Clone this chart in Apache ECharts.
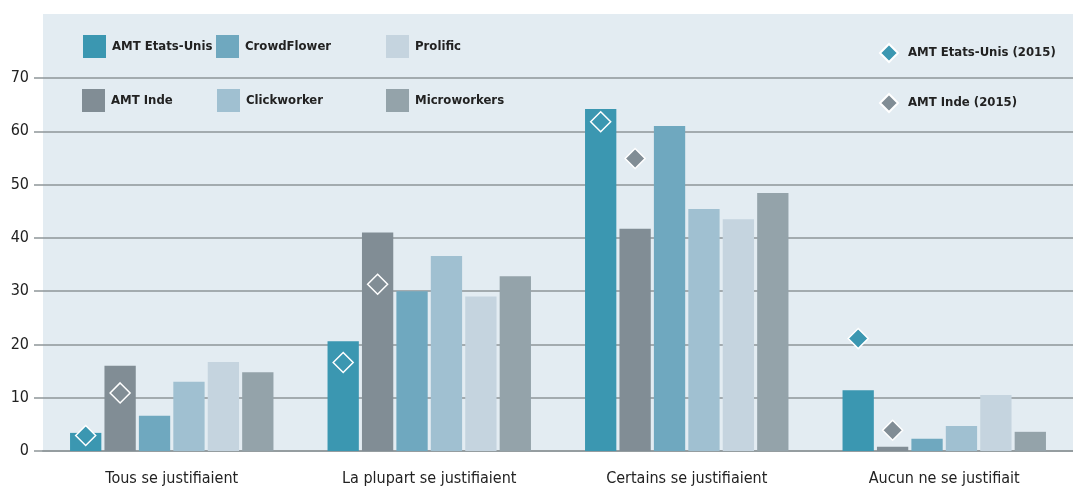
<!DOCTYPE html>
<html>
<head>
<meta charset="utf-8">
<script src="https://cdn.jsdelivr.net/npm/echarts@6/dist/echarts.min.js"></script>
<style>
  html, body { margin: 0; padding: 0; background: #fff; }
  #chart { width: 1073px; height: 491px; }
</style>
</head>
<body>
<div id="chart"></div>
<script>
// categories + values (%)
const categories = [
  "Tous se justifiaient",
  "La plupart se justifiaient",
  "Certains se justifiaient",
  "Aucun ne se justifiait",
];
const amtUS = [3.4, 20.6, 64.2, 11.4];
const amtInde = [16, 41, 41.7, 0.8];
const crowdFlower = [6.6, 30, 61, 2.3];
const clickworker = [13, 36.6, 45.4, 4.7];
const prolific = [16.7, 29, 43.5, 10.5];
const microworkers = [14.8, 32.8, 48.4, 3.6];
const amtUS2015 = [2.9, 16.6, 61.8, 21.1];
const amtInde2015 = [10.9, 31.3, 54.9, 3.9];
const yTicks = [0, 10, 20, 30, 40, 50, 60, 70];

const colors = {
  us: "#3b97b1",
  inde: "#818d95",
  crowd: "#6fa8bf",
  click: "#a0c0d1",
  prolific: "#c5d4df",
  micro: "#94a3aa",
};
const font = "'Liberation Sans Narrow', 'DejaVu Sans Condensed', sans-serif";

function barSeries(name, data, color, extra) {
  return Object.assign(
    {
      name: name,
      type: "bar",
      data: data,
      barCategoryGap: "21%",
      barGap: "10%",
      itemStyle: { color: color },
    },
    extra || {}
  );
}

function diamonds(values, color) {
  return {
    symbol: "diamond",
    symbolSize: 20,
    silent: true,
    label: { show: false },
    itemStyle: { color: color, borderColor: "#fff", borderWidth: 1.5 },
    data: values.map(function (v, i) {
      return { coord: [i, v], value: v };
    }),
  };
}

function legendItem(name, left, top, icon) {
  const isDiamond = icon === "diamond";
  return {
    data: [name],
    left: left,
    top: top,
    padding: 0,
    icon: icon,
    itemWidth: isDiamond ? 18 : 23,
    itemHeight: isDiamond ? 18 : 23,
    selectedMode: false,
    textStyle: {
      fontFamily: font,
      fontWeight: "bold",
      fontSize: 13,
      color: "#222",
      padding: isDiamond ? [0, 0, 0, 5] : [0, 0, 0, 1],
    },
  };
}

const chart = echarts.init(document.getElementById("chart"));
chart.setOption({
  animation: false,
  textStyle: { fontFamily: font },
  grid: { left: 43, right: 0, top: 78, bottom: 40 },
  graphic: [
    {
      type: "rect",
      left: 43,
      top: 14,
      z: -10,
      silent: true,
      shape: { width: 1030, height: 437 },
      style: { fill: "#e3ecf2" },
    },
  ],
  legend: [
    legendItem("AMT Etats-Unis", 83, 35, "rect"),
    legendItem("CrowdFlower", 216, 35, "rect"),
    legendItem("Prolific", 386, 35, "rect"),
    legendItem("AMT Inde", 82, 89, "rect"),
    legendItem("Clickworker", 217, 89, "rect"),
    legendItem("Microworkers", 386, 89, "rect"),
    legendItem("AMT Etats-Unis (2015)", 879, 43, "diamond"),
    legendItem("AMT Inde (2015)", 879, 93, "diamond"),
  ],
  xAxis: {
    type: "category",
    data: categories,
    axisLine: { lineStyle: { color: "#aab2b6", width: 2 } },
    axisTick: { show: false },
    axisLabel: { fontSize: 16, color: "#222", margin: 20 },
  },
  yAxis: {
    type: "value",
    min: yTicks[0],
    max: yTicks[yTicks.length - 1],
    interval: 10,
    z: 1,
    axisLine: { show: false },
    axisTick: { show: true, length: 9, lineStyle: { color: "#8e9699", width: 1.5 } },
    axisLabel: { fontSize: 16, color: "#222", margin: 14 },
    splitLine: { lineStyle: { color: "#8e9699", width: 1.5 } },
  },
  series: [
    barSeries("AMT Etats-Unis", amtUS, colors.us, {
      markPoint: diamonds(amtUS2015, colors.us),
    }),
    barSeries("AMT Inde", amtInde, colors.inde, {
      markPoint: diamonds(amtInde2015, colors.inde),
    }),
    barSeries("CrowdFlower", crowdFlower, colors.crowd),
    barSeries("Clickworker", clickworker, colors.click),
    barSeries("Prolific", prolific, colors.prolific),
    barSeries("Microworkers", microworkers, colors.micro),
    // legend-only entries, the diamonds themselves are markPoints on the bars
    {
      name: "AMT Etats-Unis (2015)",
      type: "scatter",
      data: [],
      itemStyle: { color: colors.us, opacity: 1, borderColor: "#fff", borderWidth: 1 },
    },
    {
      name: "AMT Inde (2015)",
      type: "scatter",
      data: [],
      itemStyle: { color: colors.inde, opacity: 1, borderColor: "#fff", borderWidth: 1 },
    },
  ],
});
</script>
</body>
</html>
